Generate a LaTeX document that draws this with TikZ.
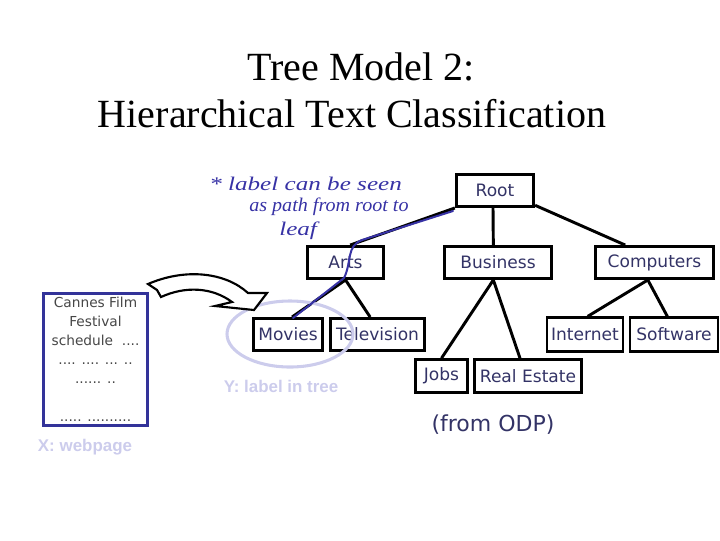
\documentclass[tikz,border=0pt]{standalone}
\usepackage{fontspec}
\setmainfont{Liberation Serif}
\newfontfamily\nodefam{DejaVu Sans}
\newfontfamily\labfam{Liberation Sans}
\newfontfamily\handfam{Liberation Serif}[FakeStretch=1.3]
\definecolor{navy}{RGB}{51,51,102}
\definecolor{inkblue}{RGB}{55,50,165}
\definecolor{lav}{RGB}{204,204,236}
\definecolor{webblue}{RGB}{51,51,153}
\definecolor{webtext}{RGB}{70,70,70}
\tikzset{
  cat/.style={draw=black, line width=2.2pt, inner sep=0pt, text=navy,
    font=\nodefam\fontsize{12.8pt}{14pt}\selectfont, minimum height=24pt},
  edge/.style={line width=2.2pt, black},
  lavlabel/.style={text=lav, font=\labfam\bfseries\fontsize{12.7pt}{14pt}\selectfont},
  hand/.style={text=inkblue, font=\handfam\itshape\fontsize{14.5pt}{16pt}\selectfont, anchor=base west, inner sep=0pt}
}
\begin{document}
\begin{tikzpicture}[x=0.75pt,y=-0.75pt]
\useasboundingbox (0,0) rectangle (720,540);
% title
\node[anchor=base, font=\fontsize{30pt}{32pt}\selectfont] (t1) at (361,80) {Tree Model 2:};
\node[anchor=base, font=\fontsize{30pt}{32pt}\selectfont] (t2) at (352,127) {Hierarchical Text Classification};
% tree nodes
\node[cat, minimum width=58pt] (root) at (495,190.5) {Root};
\node[cat, minimum width=57pt] (arts) at (345.5,262.5) {Arts};
\node[cat, minimum width=80pt] (bus) at (498,262.5) {Business};
\node[cat, minimum width=89pt] (comp) at (654.5,262.5) {Computers};
\node[cat, minimum width=52pt] (mov) at (288,334.5) {Movies};
\node[cat, minimum width=71pt] (tv) at (377.5,334.5) {Television};
\node[cat, minimum width=57pt, minimum height=25pt] (inet) at (585,334.5) {Internet};
\node[cat, minimum width=66pt, minimum height=25pt] (soft) at (674,334.5) {Software};
\node[cat, minimum width=39pt, minimum height=24.5pt] (jobs) at (441.5,376) {Jobs};
\node[cat, minimum width=80pt, minimum height=24.5pt] (re) at (528,376) {Real Estate};
% edges
\draw[edge] (root.south west) -- ([xshift=3.5pt]arts.north);
\draw[edge] ([xshift=-1.5pt]root.south) -- ([xshift=-3.5pt]bus.north);
\draw[edge] ([yshift=2pt]root.south east) -- ([xshift=-22pt]comp.north);
\draw[edge] (arts.south) -- ([xshift=3pt]mov.north);
\draw[edge] (arts.south) -- ([xshift=-5.5pt]tv.north);
\draw[edge] ([xshift=-3.5pt]bus.south) -- (jobs.north);
\draw[edge] ([xshift=-3.5pt]bus.south) -- ([xshift=-6pt]re.north);
\draw[edge] ([xshift=-5pt]comp.south) -- ([xshift=2pt]inet.north);
\draw[edge] ([xshift=-5pt]comp.south) -- ([xshift=-5pt]soft.north);
\node[text=navy, font=\nodefam\fontsize{16.5pt}{18pt}\selectfont] (odp) at (493,425) {(from ODP)};
% ellipse around Movies
\draw[lav, line width=2.3pt] (290,334) ellipse [x radius=63, y radius=33];
\node[lavlabel] (ylab) at (281,386) {Y: label in tree};
% webpage box
\node[draw=webblue, line width=2.2pt, minimum width=78pt, minimum height=99pt, inner sep=0pt,
  align=center, text=webtext, font=\nodefam\fontsize{10.3pt}{14.2pt}\selectfont] (web) at (95.5,359.5)
  {Cannes Film\\Festival\\schedule\ \ ....\\.... .... ... ..\\...... ..\\\mbox{}\\..... ..........};
\node[lavlabel] (xlab) at (85,447) {X: webpage};
% curved block arrow
\draw[line width=1.6pt, fill=white, line join=miter]
  (148,284) .. controls (185,268) and (225,272) .. (248,293) -- (267,293) -- (254,310)
  -- (215,306) -- (232,302) .. controls (212,287) and (185,286) .. (161,297) -- (157,290) -- cycle;
% handwriting note
\node[hand] (h1) at (209,190) {* label can be seen};
\node[hand] (h2) at (249,211) {\scalebox{0.8}[1]{as path from root to}};
\node[hand] (h3) at (279,235) {leaf};
\draw[inkblue, line width=1.5pt, line cap=round]
  (453,211) -- (362,240) .. controls (346,246) and (352,262) .. (344,278) -- (293,318);
\end{tikzpicture}
\end{document}
